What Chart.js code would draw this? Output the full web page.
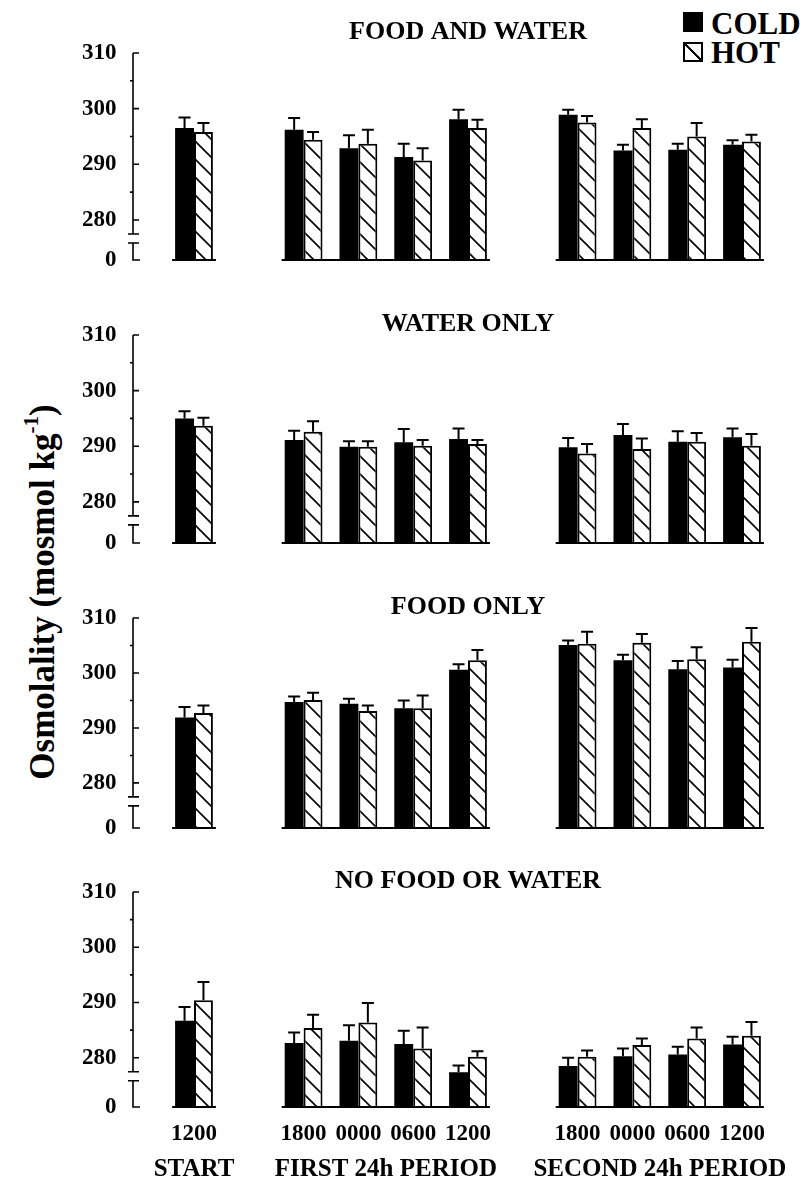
<!DOCTYPE html>
<html>
<head>
<meta charset="utf-8">
<script src="https://cdn.jsdelivr.net/npm/chart.js@4.4.1/dist/chart.umd.min.js"></script>
<style>
  body { margin: 0; background: #fff; }
  #page {
    position: relative;
    width: 804px;
    height: 1181px;
    overflow: hidden;
    font-family: "Liberation Serif", "Times New Roman", serif;
    font-weight: bold;
    color: #000;
  }
  canvas.panel { position: absolute; left: 0; }
  #ytitle {
    position: absolute;
    left: -157px;
    top: 572px;
    width: 400px;
    height: 40px;
    line-height: 40px;
    font-size: 35px;
    text-align: center;
    white-space: nowrap;
    transform: rotate(-90deg);
  }
  #ytitle sup {
    font-size: 0.6em;
    vertical-align: baseline;
    position: relative;
    top: -0.75em;
  }
  .sw { position: absolute; left: 683px; width: 20px; height: 20px; box-sizing: border-box; }
  .sw.cold { top: 12px; background: #000; }
  .sw.hot {
    top: 42px;
    border: 2px solid #000;
    background: linear-gradient(to top right, transparent calc(50% - 1px), #000 calc(50% - 1px),
                #000 calc(50% + 1px), transparent calc(50% + 1px));
  }
  .lg { position: absolute; left: 711px; font-size: 31px; line-height: 31px; }
</style>
</head>
<body>
<div id="page">
  <div id="ytitle">Osmolality (mosmol kg<sup>-1</sup>)</div>
  <div class="sw cold"></div><div class="lg" style="top:8px">COLD</div>
  <div class="sw hot"></div><div class="lg" style="top:37px">HOT</div>
  <canvas class="panel" id="p0" width="804" height="276" style="top:0px"></canvas>
  <canvas class="panel" id="p1" width="804" height="283" style="top:276px"></canvas>
  <canvas class="panel" id="p2" width="804" height="285" style="top:559px"></canvas>
  <canvas class="panel" id="p3" width="804" height="337" style="top:844px"></canvas>
</div>
<script>
// sampling times (blank slots separate START / first 24h / second 24h)
const times = ['1200', '', '1800', '0000', '0600', '1200', '', '1800', '0000', '0600', '1200'];
const groupLabels = ['START', 'FIRST 24h PERIOD', 'SECOND 24h PERIOD'];
const groupFirst = [0, 2, 7];
const groupLast = [0, 5, 10];

const panelTitles = ['FOOD AND WATER', 'WATER ONLY', 'FOOD ONLY', 'NO FOOD OR WATER'];
const yTicks = [280, 290, 300, 310];
const yMinor = [285, 295, 305];

// osmolality, mosmol/kg (mean and upper SE)
const foodWaterCold    = [296.5, null, 296.2, 292.9, 291.3, 298.1, null, 298.9, 292.5, 292.6, 293.5];
const foodWaterColdSE  = [1.9, null, 2.1, 2.3, 2.4, 1.7, null, 0.9, 1.0, 1.1, 0.8];
const foodWaterHot     = [295.8, null, 294.4, 293.7, 290.7, 296.5, null, 297.5, 296.5, 295.0, 294.1];
const foodWaterHotSE   = [1.6, null, 1.4, 2.5, 2.2, 1.5, null, 1.2, 1.6, 2.4, 1.2];

const waterOnlyCold    = [295.0, null, 291.1, 289.9, 290.7, 291.3, null, 289.8, 292.0, 290.8, 291.6];
const waterOnlyColdSE  = [1.3, null, 1.7, 1.0, 2.4, 1.9, null, 1.7, 2.0, 1.9, 1.6];
const waterOnlyHot     = [293.7, null, 292.6, 289.9, 290.1, 290.4, null, 288.7, 289.5, 290.8, 290.1];
const waterOnlyHotSE   = [1.4, null, 1.9, 1.0, 1.0, 0.7, null, 1.7, 1.9, 1.6, 2.1];

const foodOnlyCold     = [291.9, null, 294.7, 294.4, 293.6, 300.6, null, 305.1, 302.3, 300.7, 301.0];
const foodOnlyColdSE   = [1.9, null, 1.0, 0.9, 1.4, 1.0, null, 0.8, 1.0, 1.5, 1.4];
const foodOnlyHot      = [292.7, null, 295.1, 293.1, 293.6, 302.3, null, 305.3, 305.5, 302.5, 305.7];
const foodOnlyHotSE    = [1.4, null, 1.3, 1.0, 2.3, 1.9, null, 2.2, 1.6, 2.2, 2.5];

const noFoodWaterCold   = [286.7, null, 282.7, 283.1, 282.5, 277.4, null, 278.5, 280.3, 280.6, 282.4];
const noFoodWaterColdSE = [2.5, null, 1.9, 2.8, 2.4, 1.2, null, 1.5, 1.4, 1.4, 1.4];
const noFoodWaterHot    = [290.4, null, 285.4, 286.4, 281.7, 280.2, null, 280.2, 282.3, 283.5, 284.0];
const noFoodWaterHotSE  = [3.3, null, 2.4, 3.5, 3.8, 1.0, null, 1.1, 1.2, 2.0, 2.5];

const coldMeans = [foodWaterCold, waterOnlyCold, foodOnlyCold, noFoodWaterCold];
const coldSE = [foodWaterColdSE, waterOnlyColdSE, foodOnlyColdSE, noFoodWaterColdSE];
const hotMeans = [foodWaterHot, waterOnlyHot, foodOnlyHot, noFoodWaterHot];
const hotSE = [foodWaterHotSE, waterOnlyHotSE, foodOnlyHotSE, noFoodWaterHotSE];

// broken axis: value drawn at the "0" mark for each panel
const axisFloor = [272.8, 272.6, 271.8, 271.1];
const padTop = [53, 59, 59, 48];
const titleLift = [21, 11, 11, 11];

const FONT = '"Liberation Serif", "Times New Roman", serif';
Chart.defaults.font.family = FONT;
Chart.defaults.font.weight = 'bold';
Chart.defaults.color = '#000';

function makeHatch() {
  const s = 18;
  const c = document.createElement('canvas');
  c.width = s; c.height = s;
  const g = c.getContext('2d');
  g.fillStyle = '#fff';
  g.fillRect(0, 0, s, s);
  g.strokeStyle = '#000';
  g.lineWidth = 1.6;
  g.beginPath();
  for (const k of [-s, 0, s]) {
    g.moveTo(k - 1, -1);
    g.lineTo(k + s + 1, s + 1);
  }
  g.stroke();
  return g.createPattern(c, 'repeat');
}
const hatch = makeHatch();

const AXIS_GAP = 33.6; // y axis line sits left of the first slot

const panelDecor = {
  id: 'panelDecor',
  afterDatasetsDraw(chart, args, opts) {
    const ctx = chart.ctx;
    const y = chart.scales.y;
    const x = chart.scales.x;
    const area = chart.chartArea;
    ctx.save();
    ctx.strokeStyle = '#000';
    ctx.lineCap = 'butt';

    // error bars (upper only)
    ctx.lineWidth = 2;
    chart.data.datasets.forEach((ds, di) => {
      const meta = chart.getDatasetMeta(di);
      meta.data.forEach((bar, i) => {
        const v = ds.data[i], e = ds.errors[i];
        if (v == null || e == null) return;
        const top = y.getPixelForValue(v + e);
        ctx.beginPath();
        ctx.moveTo(bar.x, bar.y);
        ctx.lineTo(bar.x, top);
        ctx.moveTo(bar.x - 6, top);
        ctx.lineTo(bar.x + 6, top);
        ctx.stroke();
      });
    });

    // baselines under each group
    const cold = chart.getDatasetMeta(0).data;
    const hot = chart.getDatasetMeta(1).data;
    groupFirst.forEach((f, gi) => {
      const a = cold[f], b = hot[groupLast[gi]];
      ctx.beginPath();
      ctx.moveTo(a.x - a.width / 2 - 3, area.bottom);
      ctx.lineTo(b.x + b.width / 2 + 3, area.bottom);
      ctx.stroke();
    });

    // broken y axis
    const ax = area.left - AXIS_GAP;
    const y280 = y.getPixelForValue(280);
    ctx.lineWidth = 1.6;
    ctx.beginPath();
    ctx.moveTo(ax, y.getPixelForValue(310));
    ctx.lineTo(ax, y280 + 14);
    ctx.moveTo(ax - 5, y280 + 14);
    ctx.lineTo(ax + 6, y280 + 14);
    ctx.moveTo(ax - 5, y280 + 23);
    ctx.lineTo(ax + 6, y280 + 23);
    ctx.moveTo(ax, y280 + 23);
    ctx.lineTo(ax, area.bottom);
    ctx.lineTo(ax + 7, area.bottom);
    yTicks.forEach(t => {
      const p = y.getPixelForValue(t);
      ctx.moveTo(ax, p);
      ctx.lineTo(ax + 6, p);
    });
    yMinor.forEach(t => {
      const p = y.getPixelForValue(t);
      ctx.moveTo(ax - 3, p);
      ctx.lineTo(ax, p);
    });
    ctx.stroke();

    // panel title
    ctx.fillStyle = '#000';
    ctx.font = 'bold 26px ' + FONT;
    ctx.textAlign = 'center';
    ctx.textBaseline = 'middle';
    ctx.fillText(opts.title, (area.left + area.right) / 2, area.top - opts.lift);

    // period labels under the last panel
    if (opts.groups) {
      ctx.font = 'bold 25px ' + FONT;
      groupFirst.forEach((f, gi) => {
        const cx = (x.getPixelForValue(f) + x.getPixelForValue(groupLast[gi])) / 2;
        ctx.fillText(groupLabels[gi], cx, area.bottom + 63);
      });
    }
    ctx.restore();
  }
};

panelTitles.forEach((title, pi) => {
  const last = pi === panelTitles.length - 1;
  const floor = axisFloor[pi];
  new Chart(document.getElementById('p' + pi), {
    type: 'bar',
    data: {
      labels: times,
      datasets: [
        { label: 'COLD', data: coldMeans[pi], errors: coldSE[pi], backgroundColor: '#000', borderWidth: 0 },
        { label: 'HOT', data: hotMeans[pi], errors: hotSE[pi], backgroundColor: hatch, borderColor: '#000', borderWidth: 2 }
      ]
    },
    options: {
      responsive: false,
      animation: false,
      devicePixelRatio: 1,
      categoryPercentage: 0.69,
      barPercentage: 1,
      layout: { padding: { top: padTop[pi], bottom: last ? 0 : 16, left: 0, right: 34.6 } },
      plugins: {
        legend: { display: false },
        tooltip: { enabled: false },
        panelDecor: { title: title, groups: last, lift: titleLift[pi] }
      },
      scales: {
        x: {
          display: last,
          offset: true,
          grid: { display: false, drawTicks: false },
          border: { display: false },
          ticks: { font: { size: 23, weight: 'bold' }, padding: 13, maxRotation: 0, autoSkip: false },
          afterFit: s => { s.height = last ? 74 : 0; }
        },
        y: {
          min: floor,
          max: 310,
          grid: { display: false, drawTicks: false },
          border: { display: false },
          afterBuildTicks: s => { s.ticks = [floor].concat(yTicks).map(v => ({ value: v })); },
          ticks: {
            font: { size: 23, weight: 'bold' },
            padding: 50,
            autoSkip: false,
            callback: v => (v === floor ? '0' : String(v))
          },
          afterFit: s => {
            s.width = 166.6;
            s.paddingTop = 14;
            s.paddingBottom = 14;
          }
        }
      }
    },
    plugins: [panelDecor]
  });
});
</script>
</body>
</html>
